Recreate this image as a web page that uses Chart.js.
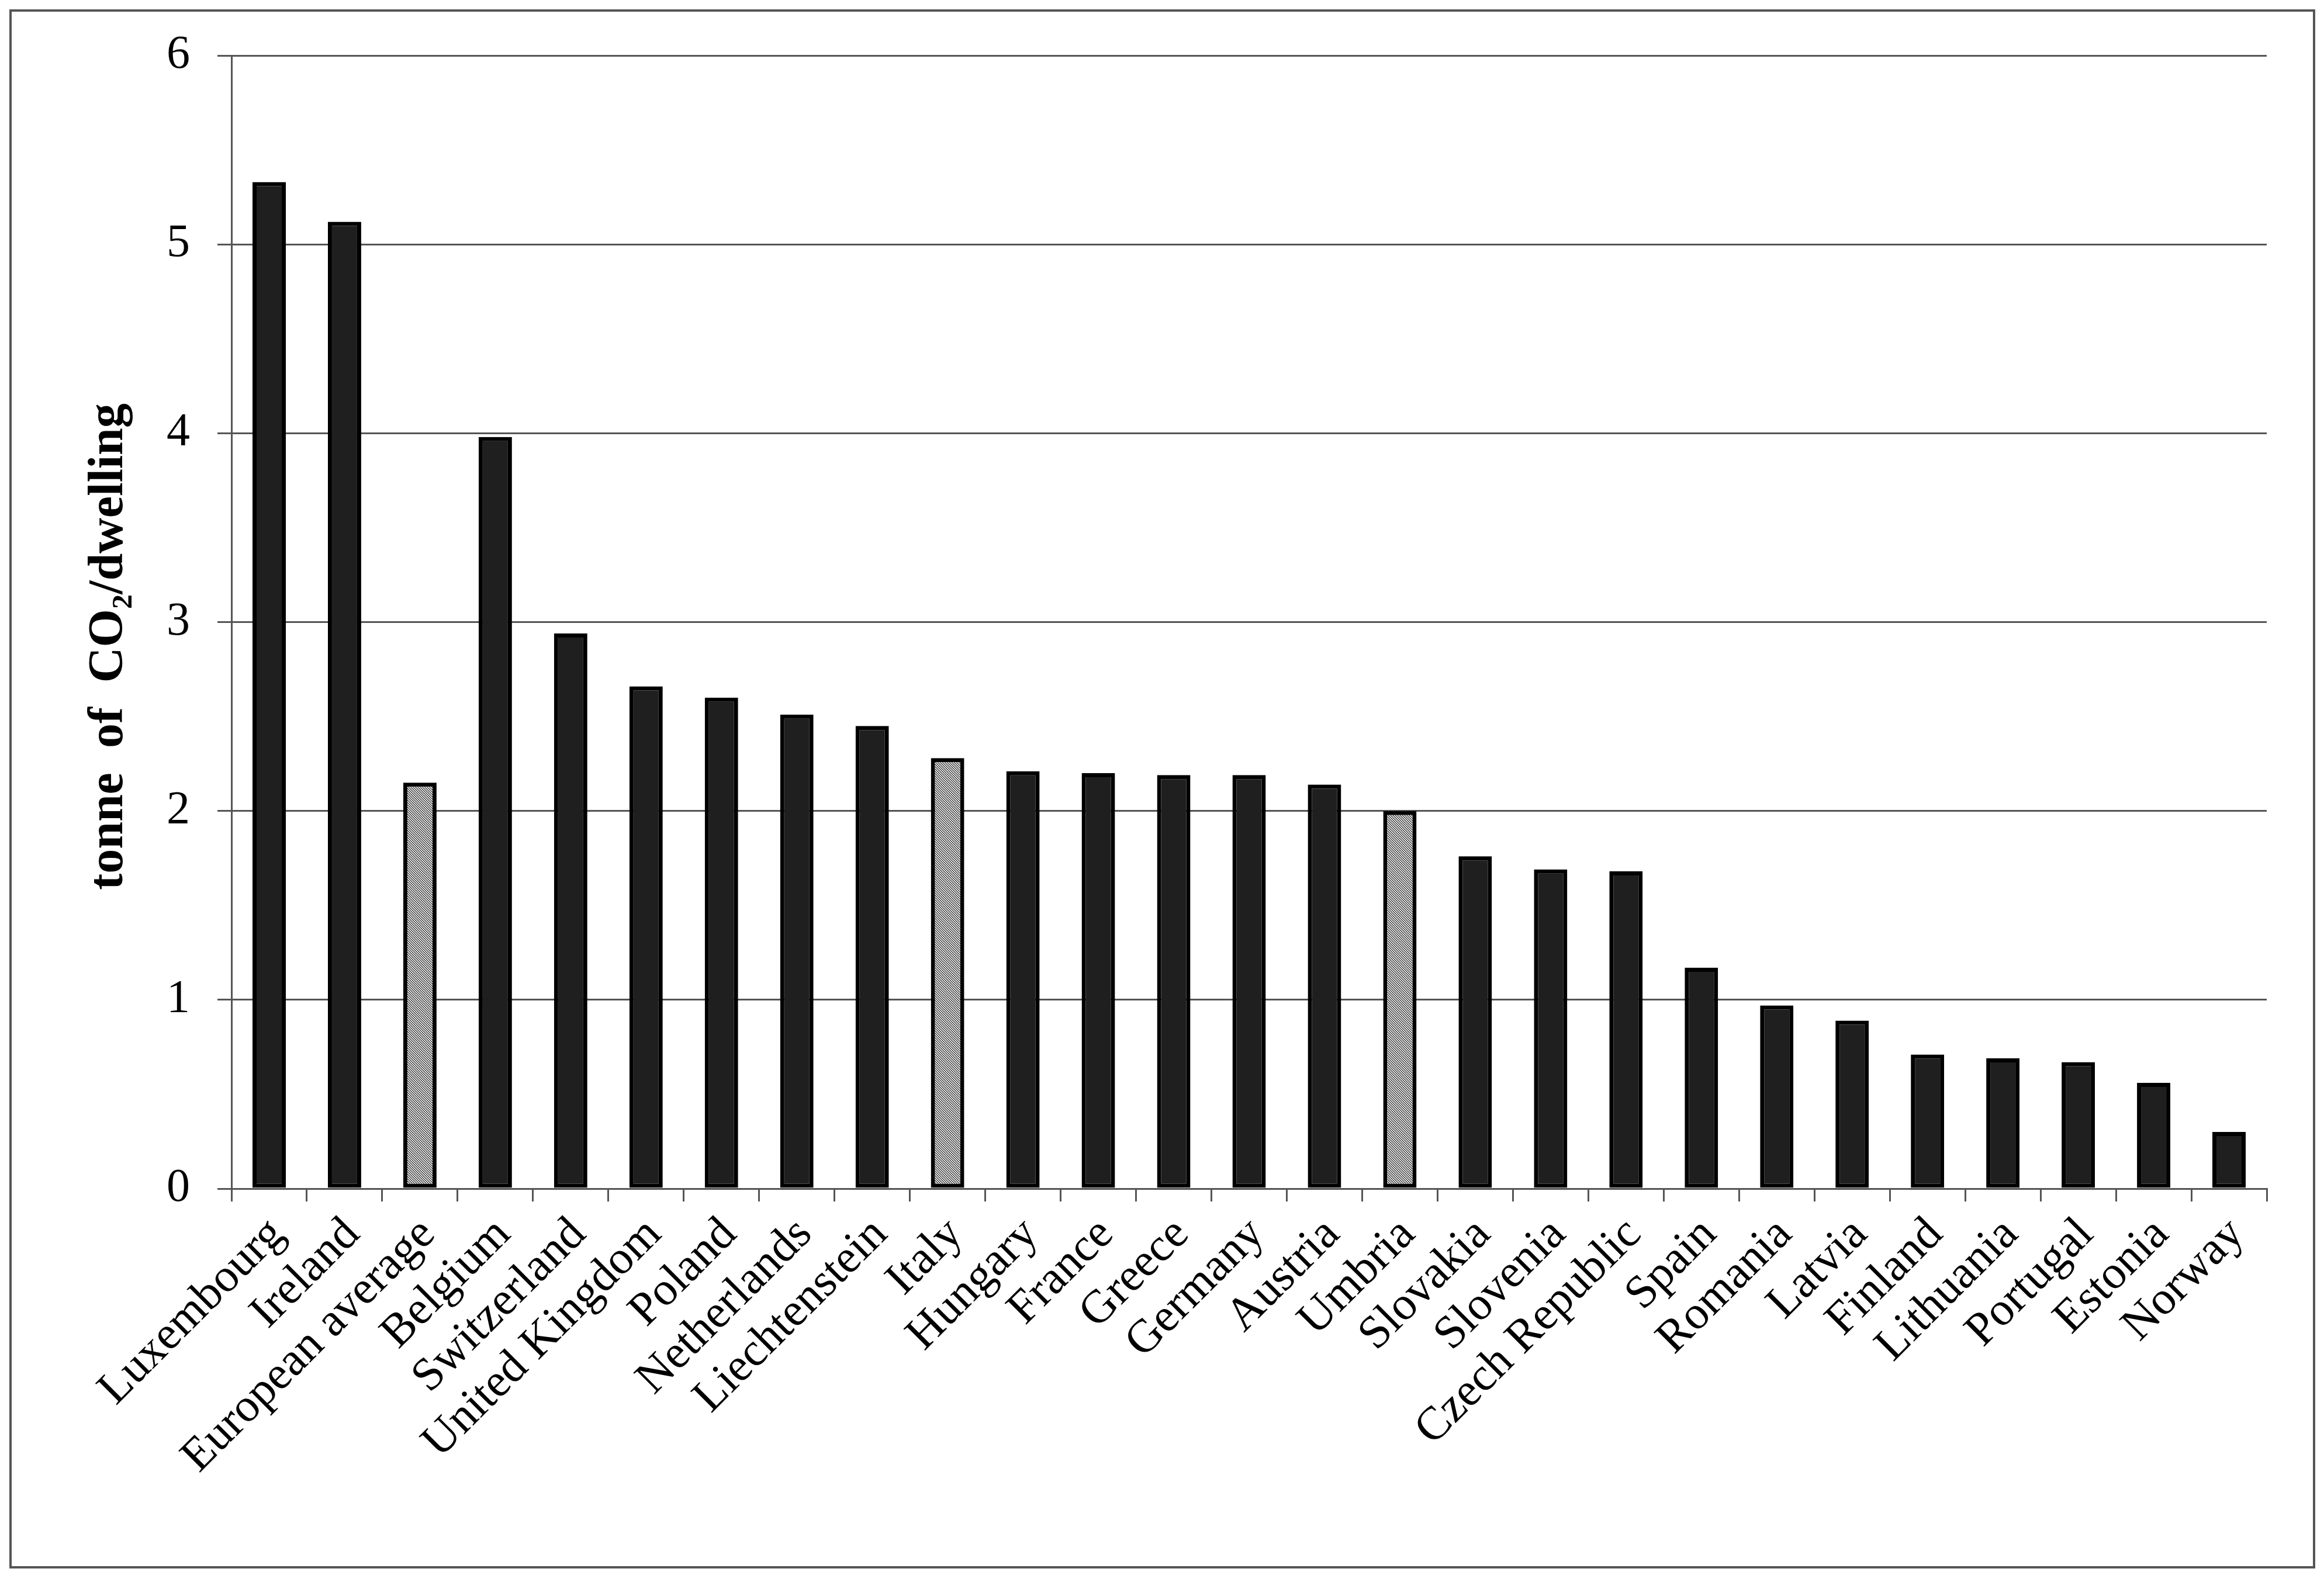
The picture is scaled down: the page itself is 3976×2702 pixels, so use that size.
<!DOCTYPE html>
<html>
<head>
<meta charset="utf-8">
<script src="https://cdn.jsdelivr.net/npm/chart.js@4.4.1/dist/chart.umd.min.js"></script>
<style>
  html, body { margin: 0; padding: 0; background: #ffffff; }
  #wrap { width: 3976px; height: 2702px; }
</style>
</head>
<body>
<div id="wrap"><canvas id="c" width="3976" height="2702"></canvas></div>
<script>
const categories = ["Luxembourg", "Ireland", "European average", "Belgium", "Switzerland", "United Kingdom", "Poland", "Netherlands", "Liechtenstein", "Italy", "Hungary", "France", "Greece", "Germany", "Austria", "Umbria", "Slovakia", "Slovenia", "Czech Republic", "Spain", "Romania", "Latvia", "Finland", "Lithuania", "Portugal", "Estonia", "Norway"];
const values = [5.33, 5.12, 2.15, 3.98, 2.94, 2.66, 2.60, 2.51, 2.45, 2.28, 2.21, 2.20, 2.19, 2.19, 2.14, 2.00, 1.76, 1.69, 1.68, 1.17, 0.97, 0.89, 0.71, 0.69, 0.67, 0.56, 0.30];
const hatchedCategories = ["European average", "Italy", "Umbria"];
const yTicks = [0, 1, 2, 3, 4, 5, 6];
const yTitle = "tonne  of  CO\u2082/dwelling    ";

function makeHatch() {
  const s = 4;
  const p = document.createElement('canvas');
  p.width = s; p.height = s;
  const g = p.getContext('2d');
  g.fillStyle = '#ffffff';
  g.fillRect(0, 0, s, s);
  g.strokeStyle = '#000000';
  g.lineWidth = 1.1;
  g.beginPath();
  g.moveTo(-1, -1); g.lineTo(s + 1, s + 1);
  g.moveTo(-1, s - 1); g.lineTo(1, s + 1);
  g.moveTo(s - 1, -1); g.lineTo(s + 1, 1);
  g.stroke();
  return document.getElementById('c').getContext('2d').createPattern(p, 'repeat');
}
const hatch = makeHatch();
const fills = categories.map(c => hatchedCategories.includes(c) ? hatch : '#1f1f1f');

const frame = {
  id: 'frame',
  afterDraw(chart) {
    const ctx = chart.ctx;
    ctx.save();
    ctx.strokeStyle = '#555555';
    ctx.lineWidth = 4;
    ctx.strokeRect(18, 18, 3941, 2664);
    ctx.restore();
  }
};

const gridColor = '#555555';
const serif = '"Liberation Serif", "Times New Roman", serif';
new Chart(document.getElementById('c'), {
  type: 'bar',
  data: {
    labels: categories,
    datasets: [{
      data: values,
      backgroundColor: fills,
      borderColor: '#000000',
      borderWidth: 7,
      borderSkipped: false,
      barPercentage: 0.442,
      categoryPercentage: 1.0
    }]
  },
  options: {
    responsive: false,
    animation: false,
    devicePixelRatio: 1,
    layout: { padding: { left: 133, right: 98, top: 93, bottom: 0 } },
    plugins: { legend: { display: false }, tooltip: { enabled: false } },
    scales: {
      x: {
        offset: true,
        grid: { offset: true, drawOnChartArea: false, tickLength: 22, color: gridColor, lineWidth: 3 },
        border: { color: gridColor, width: 3 },
        ticks: {
          autoSkip: false, minRotation: 45, maxRotation: 45, padding: 10, labelOffset: 14,
          color: '#000000',
          font: { family: serif, size: 80 }
        },
        afterFit(scale) { scale.height = 2702 - 2034; }
      },
      y: {
        min: 0, max: 6,
        afterBuildTicks(scale) { scale.ticks = yTicks.map(v => ({ value: v })); },
        grid: { tickLength: 24, color: gridColor, lineWidth: 3 },
        border: { color: gridColor, width: 3 },
        ticks: {
          padding: 47,
          color: '#000000',
          font: { family: serif, size: 80 }
        },
        title: {
          display: true,
          text: yTitle,
          color: '#000000',
          font: { family: serif, size: 84, weight: 'bold' }
        },
        afterFit(scale) { scale.width = 396 - 133; }
      }
    }
  },
  plugins: [frame]
});
</script>
</body>
</html>
